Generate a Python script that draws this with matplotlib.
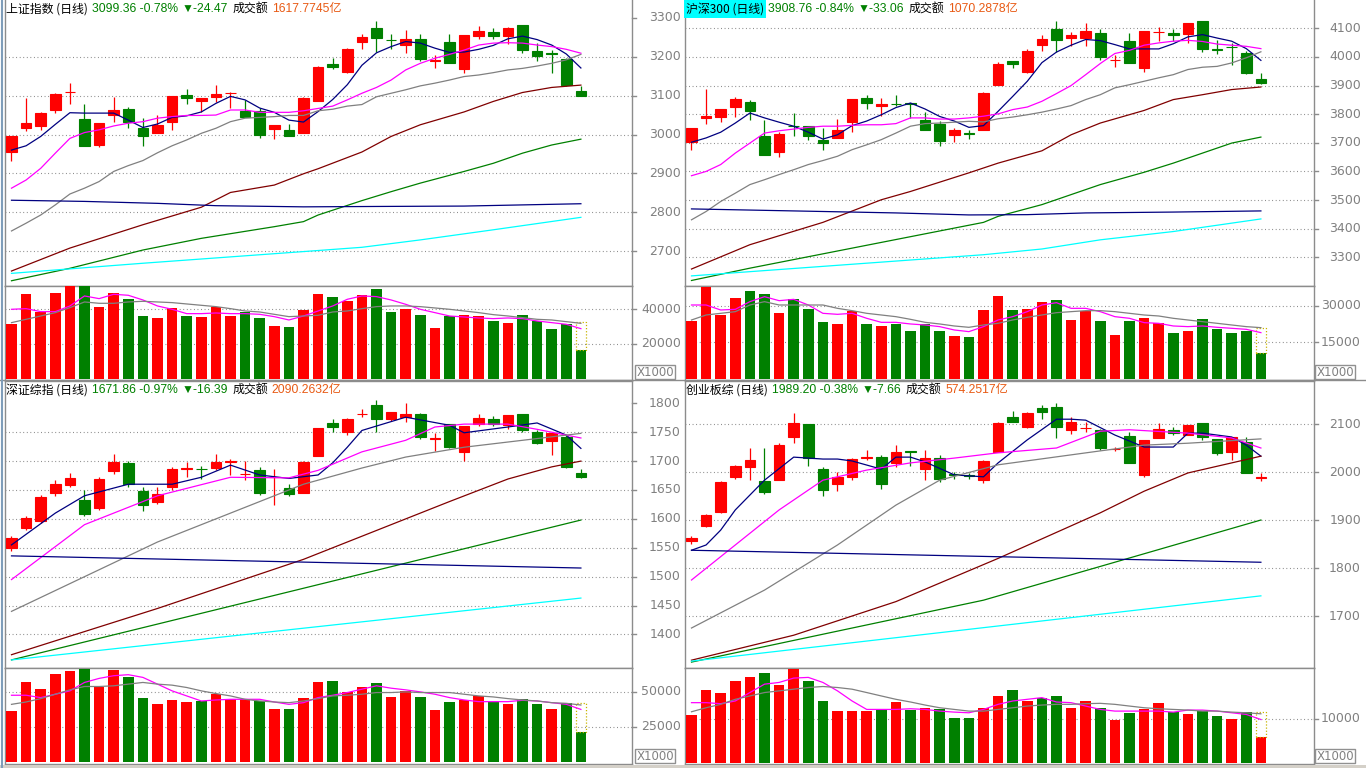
import numpy as np
import matplotlib.pyplot as plt
from matplotlib.patches import Rectangle
from matplotlib.lines import Line2D
from matplotlib.transforms import blended_transform_factory as blend

plt.rcParams['font.family'] = ['Liberation Sans', 'Noto Sans CJK SC', 'DejaVu Sans']

# ---------------- 上证指数 ----------------
sh_title = ["上证指数 (日线)", "3099.36 -0.78%", "▼-24.47", "成交额", "1617.7745亿"]
sh_open = [2956, 3018, 3023, 3064, 3108, 3040, 2972, 3049, 3066, 3018, 3005, 3031, 3102, 3087, 3097, 3106, 3061, 3060, 3015, 3012,
           3005, 3085, 3180, 3161, 3238, 3274, 3243, 3229, 3246, 3190, 3238, 3169, 3254, 3264, 3254, 3282, 3215, 3209, 3193, 3112]
sh_close = [2996, 3030, 3055, 3104, 3110, 2971, 3030, 3063, 3031, 2995, 3024, 3099, 3095, 3094, 3104, 3107, 3046, 3000, 3025, 2997,
            3095, 3174, 3173, 3220, 3251, 3249, 3242, 3245, 3195, 3191, 3183, 3256, 3266, 3254, 3274, 3218, 3203, 3208, 3128, 3099.36]
sh_high = [2996, 3095, 3058, 3106, 3133, 3078, 3030, 3097, 3070, 3042, 3050, 3099, 3117, 3094, 3127, 3109, 3089, 3069, 3025, 3027,
           3097, 3177, 3197, 3223, 3259, 3292, 3259, 3269, 3259, 3204, 3259, 3256, 3279, 3274, 3277, 3282, 3234, 3216, 3197, 3125]
sh_low = [2933, 3010, 3012, 3054, 3079, 2971, 2967, 3032, 3018, 2971, 3003, 3012, 3079, 3057, 3084, 3068, 3046, 2992, 2989, 2995,
          3003, 3085, 3169, 3157, 3221, 3213, 3221, 3209, 3190, 3172, 3183, 3157, 3246, 3246, 3232, 3210, 3189, 3159, 3125, 3099]
sh_ma5 = [2960, 2971, 2995, 3026, 3056, 3055, 3055, 3055, 3037, 3018, 3027, 3044, 3048, 3058, 3080, 3098, 3089, 3068, 3057, 3037,
          3032, 3059, 3090, 3128, 3178, 3210, 3226, 3239, 3235, 3222, 3211, 3212, 3219, 3229, 3246, 3253, 3244, 3230, 3207, 3171]
sh_ma10 = [2862, 2883, 2913, 2952, 2990, 3005, 3012, 3022, 3029, 3033, 3042, 3046, 3049, 3049, 3050, 3063, 3063, 3057, 3057, 3057,
           3061, 3067, 3073, 3089, 3106, 3121, 3140, 3166, 3183, 3196, 3206, 3217, 3230, 3235, 3236, 3235, 3230, 3226, 3219, 3209]
sh_ma20 = [2752, 2772, 2793, 2819, 2847, 2862, 2879, 2905, 2920, 2933, 2953, 2971, 2986, 3003, 3016, 3033, 3042, 3044, 3046, 3049,
           3049, 3061, 3065, 3073, 3077, 3097, 3106, 3115, 3125, 3132, 3140, 3149, 3153, 3159, 3166, 3170, 3176, 3183, 3192, 3206]
sh_ma60 = ([0, 4, 9, 13, 15, 18, 20, 21, 24, 26, 28, 31, 33, 35, 37, 39],
           [2649, 2708, 2768, 2813, 2851, 2870, 2899, 2912, 2955, 2995, 3025, 3058, 3085, 3108, 3121, 3127])
sh_ma120 = ([0, 4, 9, 13, 18, 20, 21, 24, 26, 28, 31, 33, 35, 37, 39],
            [2624, 2656, 2703, 2733, 2763, 2776, 2793, 2830, 2853, 2875, 2905, 2926, 2952, 2973, 2988])
sh_ma250 = ([0, 5, 10, 14, 20, 25, 31, 39], [2831, 2828, 2823, 2817, 2814, 2815, 2816, 2822])
sh_ma_c = ([0, 9, 20, 24, 28, 33, 39], [2643, 2669, 2699, 2710, 2729, 2755, 2787])
sh_vol = [31350, 48650, 38650, 49230, 53460, 53460, 41150, 49230, 45770, 35960, 34810, 40580, 35960, 35380, 41150, 35960, 38270, 34810, 30190, 29620,
          39420, 48650, 46920, 44620, 48080, 51540, 38270, 40000, 36540, 29040, 35960, 36540, 35960, 33080, 31920, 36540, 33080, 28460, 31350, 16350]
sh_vol_ma5 = [40000, 40380, 38650, 38650, 41920, 47690, 46150, 48650, 48080, 45380, 41920, 40000, 37500, 37500, 37880, 37500, 37500, 37110, 35770, 33850,
              36150, 39040, 41920, 45770, 47690, 47310, 45380, 42880, 40000, 38080, 36150, 35580, 35000, 34620, 35000, 34620, 33270, 32310, 31350, 28850]
sh_vol_ma10 = [32310, 34230, 36150, 38080, 40960, 44230, 43460, 43460, 44230, 44610, 44230, 43850, 43080, 42310, 41540, 40380, 39040, 38460, 37110, 35770,
               36150, 36540, 38460, 39040, 40380, 41540, 41920, 41920, 41540, 40770, 40000, 39040, 38080, 36920, 36150, 35190, 34230, 33850, 32880, 31920]
sh_vol_est = 32880
sh_price_ticks = [3300, 3200, 3100, 3000, 2900, 2800, 2700]
sh_price_grid = [3200, 3100, 3000, 2900, 2800, 2700]
sh_vol_ticks = [40000, 20000]

# ---------------- 沪深300 ----------------
hs_title = ["沪深300 (日线)", "3908.76 -0.84%", "▼-33.06", "成交额", "1070.2878亿"]
hs_open = [3702, 3786, 3789, 3824, 3844, 3725, 3667, 3760, 3760, 3711, 3716, 3772, 3858, 3828, 3837, 3838, 3779, 3765, 3726, 3733,
           3744, 3903, 3987, 3949, 4041, 4099, 4065, 4065, 4085, 3990, 4057, 3960, 4086, 4085, 4079, 4127, 4026, 4036, 4015, 3924]
hs_close = [3753, 3795, 3819, 3853, 3810, 3659, 3732, 3759, 3725, 3700, 3746, 3854, 3838, 3836, 3836, 3837, 3746, 3705, 3746, 3732,
            3875, 3977, 3974, 4022, 4064, 4058, 4078, 4089, 3999, 3991, 3978, 4089, 4087, 4076, 4120, 4027, 4025, 4035, 3943, 3908.76]
hs_high = [3753, 3889, 3819, 3859, 3848, 3779, 3737, 3804, 3760, 3752, 3784, 3854, 3868, 3858, 3866, 3838, 3807, 3775, 3752, 3746,
           3879, 3983, 3987, 4028, 4075, 4124, 4086, 4117, 4099, 4005, 4085, 4089, 4105, 4096, 4120, 4127, 4059, 4047, 4020, 3945]
hs_low = [3674, 3767, 3774, 3789, 3781, 3659, 3652, 3725, 3711, 3676, 3716, 3737, 3817, 3795, 3828, 3787, 3746, 3690, 3703, 3712,
          3744, 3903, 3960, 3943, 4022, 4017, 4038, 4037, 3991, 3964, 3978, 3946, 4057, 4057, 4048, 4016, 4009, 3971, 3939, 3907]
hs_ma5 = [3702, 3717, 3737, 3769, 3804, 3787, 3772, 3758, 3737, 3713, 3728, 3760, 3776, 3798, 3823, 3839, 3818, 3792, 3776, 3754,
          3760, 3810, 3862, 3915, 3980, 4017, 4041, 4061, 4057, 4043, 4028, 4028, 4028, 4046, 4070, 4078, 4066, 4055, 4029, 3988]
hs_ma10 = [3585, 3600, 3624, 3664, 3699, 3734, 3742, 3748, 3754, 3758, 3758, 3761, 3763, 3763, 3767, 3787, 3787, 3783, 3783, 3787,
           3793, 3801, 3816, 3825, 3845, 3872, 3900, 3938, 3977, 4012, 4023, 4041, 4049, 4055, 4058, 4054, 4045, 4041, 4037, 4029]
hs_ma20 = [3431, 3460, 3495, 3524, 3554, 3571, 3589, 3606, 3624, 3638, 3653, 3676, 3693, 3711, 3734, 3758, 3767, 3769, 3772, 3775,
           3773, 3784, 3790, 3798, 3807, 3818, 3830, 3851, 3868, 3892, 3903, 3915, 3927, 3938, 3956, 3964, 3967, 3979, 3997, 4018]
hs_ma60 = ([0, 4, 9, 13, 15, 19, 21, 24, 26, 28, 31, 33, 35, 37, 39],
           [3259, 3344, 3422, 3501, 3530, 3595, 3629, 3672, 3728, 3769, 3813, 3851, 3868, 3886, 3895])
hs_ma120 = ([0, 4, 9, 13, 20, 21, 24, 26, 28, 31, 33, 35, 37, 39],
            [3219, 3262, 3312, 3352, 3422, 3443, 3484, 3519, 3554, 3597, 3629, 3664, 3699, 3720])
hs_ma250 = ([0, 5, 10, 14, 19, 23, 27, 33, 39], [3469, 3464, 3459, 3455, 3448, 3449, 3455, 3458, 3462])
hs_ma_c = ([0, 20, 24, 28, 33, 39], [3235, 3309, 3329, 3361, 3390, 3434])
hs_vol = [23950, 37980, 26420, 33440, 36330, 34950, 27250, 32890, 28900, 23530, 22710, 27940, 22710, 21880, 22710, 19820, 22710, 19820, 17750, 17340,
          28350, 34270, 28350, 28760, 31790, 32620, 24220, 27940, 23950, 18170, 23950, 25180, 23120, 18990, 19820, 24770, 20640, 18990, 19820, 10730]
hs_vol_ma5 = [30410, 30410, 28350, 28620, 31790, 33850, 32200, 32750, 30410, 26970, 26560, 26970, 24910, 23250, 23250, 22570, 22150, 21470, 20090, 19400,
              21470, 24220, 25590, 27660, 30410, 31370, 29030, 29030, 27660, 25590, 24910, 23120, 22840, 21740, 21470, 21740, 21190, 20780, 20360, 18990]
hs_vol_ma10 = [24220, 26280, 26970, 27660, 30410, 31790, 30410, 30410, 30410, 30410, 29030, 28070, 26970, 26280, 25590, 24490, 23250, 22570, 21740, 21190,
               22150, 22840, 24220, 25320, 26280, 27240, 27660, 28070, 28070, 27660, 26970, 26280, 25870, 24910, 24220, 23530, 22840, 22150, 21470, 21050]
hs_vol_est = 21050
hs_price_ticks = [4100, 4000, 3900, 3800, 3700, 3600, 3500, 3400, 3300]
hs_price_grid = [4100, 4000, 3900, 3800, 3700, 3600, 3500, 3400, 3300]
hs_vol_ticks = [30000, 15000]

# ---------------- 深证综指 ----------------
sz_title = ["深证综指 (日线)", "1671.86 -0.97%", "▼-16.39", "成交额", "2090.2632亿"]
sz_open = [1550, 1584, 1596, 1645, 1658, 1633, 1619, 1683, 1697, 1648, 1629, 1655, 1687, 1687, 1688, 1699, 1677, 1685, 1672, 1653,
           1645, 1709, 1766, 1750, 1781, 1797, 1773, 1776, 1781, 1739, 1764, 1716, 1764, 1773, 1762, 1781, 1750, 1735, 1741, 1679]
sz_close = [1567, 1601, 1638, 1660, 1671, 1608, 1669, 1698, 1660, 1624, 1643, 1686, 1688, 1686, 1698, 1700, 1678, 1645, 1673, 1643,
            1698, 1757, 1759, 1773, 1782, 1773, 1785, 1782, 1742, 1740, 1724, 1761, 1774, 1764, 1780, 1754, 1731, 1748, 1690, 1671.86]
sz_high = [1570, 1605, 1642, 1668, 1680, 1650, 1672, 1712, 1700, 1655, 1655, 1690, 1698, 1692, 1712, 1703, 1701, 1690, 1686, 1660,
           1700, 1758, 1772, 1775, 1790, 1805, 1785, 1800, 1783, 1748, 1764, 1761, 1782, 1778, 1780, 1781, 1753, 1750, 1745, 1686]
sz_low = [1545, 1580, 1593, 1640, 1655, 1605, 1615, 1678, 1655, 1613, 1625, 1650, 1672, 1669, 1685, 1676, 1667, 1642, 1624, 1640,
          1645, 1708, 1751, 1746, 1777, 1750, 1770, 1767, 1738, 1717, 1722, 1700, 1760, 1760, 1755, 1750, 1729, 1710, 1688, 1670]
sz_ma5 = ([0, 3, 5, 8, 11, 13, 15, 17, 19, 21, 22, 23, 24, 27, 30, 31, 34, 36, 38, 39],
          [1555, 1610, 1640, 1660, 1660, 1672, 1693, 1676, 1670, 1676, 1697, 1724, 1753, 1776, 1762, 1749, 1759, 1766, 1745, 1722])
sz_ma10 = ([0, 5, 10, 15, 19, 21, 24, 27, 29, 31, 34, 36, 39],
           [1495, 1590, 1640, 1672, 1671, 1684, 1716, 1736, 1759, 1764, 1764, 1755, 1740])
sz_ma20 = ([0, 5, 10, 15, 20, 24, 27, 31, 35, 39], [1440, 1500, 1560, 1610, 1660, 1688, 1707, 1724, 1736, 1748])
sz_ma60 = ([0, 10, 20, 30, 34, 37, 39], [1365, 1445, 1530, 1630, 1669, 1690, 1700])
sz_ma120 = ([0, 20, 39], [1356, 1480, 1598])
sz_ma250 = ([0, 39], [1536, 1515])
sz_ma_c = ([0, 39], [1356, 1463])
sz_vol = [36190, 56900, 51670, 62380, 64760, 65950, 53330, 65240, 60480, 45720, 40950, 43810, 42620, 43330, 48100, 45000, 45000, 43330, 37380, 37380,
          45240, 56900, 57620, 50000, 53330, 55950, 46190, 50480, 46190, 36900, 42620, 44050, 46910, 43330, 40950, 44520, 40950, 37380, 42140, 21190]
sz_vol_ma5 = [47380, 47380, 45720, 48100, 50480, 56430, 59290, 61190, 61910, 60000, 55240, 50480, 46910, 43330, 44050, 44520, 44520, 44520, 42620, 40950,
              42140, 45720, 47380, 49290, 51670, 54050, 52380, 51190, 49760, 48100, 45720, 44050, 42860, 42860, 42860, 43810, 43330, 42140, 40950, 37380]
sz_vol_ma10 = [40950, 42620, 45000, 48100, 51190, 53570, 53570, 54050, 55240, 56430, 55240, 54520, 52860, 50480, 48570, 46910, 44520, 43330, 42620, 42140,
               43330, 45000, 46910, 47380, 48100, 49290, 49290, 49760, 49290, 49290, 49290, 48100, 46910, 46190, 45000, 44050, 43330, 42140, 41670, 40480]
sz_vol_est = 41670
sz_price_ticks = [1800, 1750, 1700, 1650, 1600, 1550, 1500, 1450, 1400]
sz_price_grid = [1750, 1700, 1650, 1600, 1550, 1500, 1450, 1400]
sz_vol_ticks = [50000, 25000]

# ---------------- 创业板综 ----------------
cy_title = ["创业板综 (日线)", "1989.20 -0.38%", "▼-7.66", "成交额", "574.2517亿"]
cy_open = [1856, 1888, 1917, 1990, 2010, 1981, 1983, 2073, 2100, 2006, 1975, 1990, 2030, 2031, 2019, 2043, 2006, 2029, 1995, 1993,
           1983, 2042, 2115, 2094, 2133, 2135, 2088, 2091, 2088, 2047, 2075, 1994, 2071, 2088, 2077, 2102, 2069, 2042, 2063, 1988]
cy_close = [1863, 1910, 1979, 2012, 2025, 1958, 2056, 2102, 2029, 1963, 1990, 2027, 2031, 1975, 2042, 2042, 2029, 1985, 1994, 1992,
            2023, 2102, 2104, 2123, 2125, 2094, 2104, 2092, 2050, 2048, 2019, 2067, 2090, 2081, 2098, 2073, 2040, 2073, 1998, 1989.2]
cy_high = [1866, 1912, 1982, 2015, 2050, 2050, 2060, 2123, 2100, 2010, 2000, 2030, 2046, 2035, 2056, 2043, 2045, 2035, 2000, 1997,
           2025, 2105, 2128, 2125, 2140, 2143, 2115, 2105, 2090, 2052, 2083, 2067, 2102, 2094, 2098, 2102, 2069, 2073, 2073, 1997]
cy_low = [1850, 1885, 1915, 1985, 1983, 1955, 1983, 2060, 2012, 1950, 1960, 1983, 2025, 1965, 2010, 2012, 1983, 1980, 1985, 1985,
          1978, 2042, 2104, 2092, 2110, 2070, 2080, 2083, 2045, 2043, 2019, 1990, 2071, 2077, 2077, 2066, 2035, 2025, 1998, 1982]
cy_ma5 = ([0, 1, 2, 3, 4, 5, 7, 9, 10, 11, 13, 14, 15, 16, 18, 20, 21, 23, 25, 26, 27, 29, 31, 33, 34, 35, 37, 38, 39],
          [1837, 1848, 1879, 1921, 1952, 1983, 2031, 2027, 2027, 2023, 2006, 2031, 2031, 2021, 1994, 1990, 2019, 2067, 2110, 2110, 2108, 2077, 2052, 2052, 2081, 2081, 2073, 2056, 2033])
cy_ma10 = ([0, 3, 6, 9, 12, 15, 18, 21, 25, 28, 30, 34, 37, 39],
           [1775, 1848, 1921, 1983, 2004, 2019, 2029, 2040, 2050, 2085, 2088, 2081, 2071, 2050])
cy_ma20 = ([0, 5, 10, 14, 17, 21, 28, 31, 34, 39], [1675, 1754, 1848, 1931, 1983, 2015, 2044, 2056, 2060, 2069])
cy_ma60 = ([0, 7, 14, 21, 28, 31, 34, 39], [1608, 1660, 1730, 1820, 1915, 1960, 1998, 2033])
cy_ma120 = ([0, 20, 39], [1604, 1733, 1900])
cy_ma250 = ([0, 39], [1837, 1812])
cy_ma_c = ([0, 39], [1606, 1742])
cy_vol = [10760, 16480, 15790, 18540, 19460, 20370, 17630, 21290, 18540, 13960, 11670, 11670, 11670, 12130, 13730, 11900, 12360, 12130, 10300, 10300,
          12360, 15110, 16480, 13960, 14650, 15110, 12360, 13960, 12360, 9840, 11220, 12130, 13510, 11450, 10990, 11670, 10530, 10070, 11450, 5950]
cy_vol_ma5 = [13660, 13660, 13430, 14040, 15950, 17850, 18240, 19230, 19380, 18240, 16330, 14040, 12130, 12130, 12130, 12280, 12130, 11750, 11520, 11370,
              12130, 13280, 14040, 14420, 14800, 13810, 13660, 12890, 12130, 11750, 11750, 11750, 11750, 11520, 11980, 11980, 11750, 11370, 10990, 9840]
cy_vol_ma10 = [11600, 12510, 13280, 14420, 15180, 15950, 16330, 16710, 17090, 17320, 17090, 16710, 15950, 15180, 14420, 13810, 13120, 12510, 12130, 11750,
               11750, 12130, 12510, 12890, 13120, 13280, 13280, 13430, 13510, 13280, 12890, 12510, 12280, 12130, 11980, 11750, 11750, 11520, 11370, 11140]
cy_vol_est = 11600
cy_price_ticks = [2100, 2000, 1900, 1800, 1700]
cy_price_grid = [2100, 2000, 1900, 1800, 1700]
cy_vol_ticks = [10000]

# ---------------- drawing ----------------
RED, GREEN = '#ff0000', '#008000'
EDGE = '#8c8c8c'
LABEL = '#808080'
DOTS = (0, (0.8, 2.4))
W, H = 1366, 768
STEP = 14.6   # pixels per candle

fig = plt.figure(figsize=(W / 100, H / 100), dpi=100)
fig.patch.set_facecolor('white')
renderer = fig.canvas.get_renderer()


def px_axes(x0, y0, x1, y1):
    ax = fig.add_axes([x0 / W, 1 - y1 / H, (x1 - x0) / W, (y1 - y0) / H])
    ax.set_xticks([])
    ax.set_yticks([])
    for s in ax.spines.values():
        s.set_color(EDGE)
        s.set_linewidth(1)
    return ax


def axis_labels(ax, ticks, grid, x0, x1, lab_x):
    tr = blend(ax.transAxes, ax.transData)
    wpx = x1 - x0
    for v in grid:
        ax.axhline(v, color='#808080', lw=0.8, ls=DOTS, zorder=1)
    for v in ticks:
        ax.text((lab_x - x0) / wpx, v, str(v), transform=tr, ha='right', va='center',
                fontsize=9, color=LABEL, family='DejaVu Sans', clip_on=False)
        ax.add_line(Line2D([1, 1 + 4 / wpx], [v, v], transform=tr, color=EDGE, lw=1, clip_on=False))


def x1000_box(bx, by):
    fig.patches.append(Rectangle((bx / W, 1 - (by + 14) / H), 40 / W, 14 / H, transform=fig.transFigure,
                                 facecolor='white', edgecolor='#909090', lw=1))
    fig.text((bx + 20) / W, 1 - (by + 7.5) / H, 'X1000', ha='center', va='center',
             fontsize=8.5, color=LABEL, family='DejaVu Sans')


def title_line(x, y, parts, bg=None):
    fams = [['Noto Sans CJK SC'], ['Liberation Sans', 'DejaVu Sans'], ['Liberation Sans', 'DejaVu Sans'],
            ['Noto Sans CJK SC'], ['Liberation Sans', 'Noto Sans CJK SC']]
    cols = ['black', GREEN, GREEN, 'black', '#e85a14']
    sizes = [8.6, 8.7, 8.7, 8.6, 8.7]
    for i, s in enumerate(parts):
        t = fig.text(x / W, 1 - y / H, s, color=cols[i], fontsize=sizes[i], family=fams[i], ha='left', va='center')
        if i == 0 and bg:
            t.set_bbox(dict(facecolor=bg, edgecolor='none', pad=1.6))
        x += t.get_window_extent(renderer=renderer).width + 4


def draw_chart(o, h, l, c, ma5, ma10, ma20, ma60, ma120, ma250, ma_c, vol, vma5, vma10, vest,
               pticks, pgrid, vticks, title, x0, x1, ytop, ysplit, ybot, lab_x, plim, vlim, box_x, bg=None):
    o, h, l, c = map(np.asarray, (o, h, l, c))
    n = len(c)
    xs = np.arange(n)
    xlim = (-0.445, -0.445 + (x1 - x0) / STEP)
    up = c >= o
    cols = np.where(up, RED, GREEN)

    pa = px_axes(x0, ytop, x1, ysplit)
    pa.set_xlim(xlim)
    pa.set_ylim(plim)
    axis_labels(pa, pticks, pgrid, x0, x1, lab_x)
    pa.vlines(xs, l, h, colors=cols, lw=0.9, zorder=3)
    pa.bar(xs, np.abs(c - o), bottom=np.minimum(o, c), width=0.72, color=cols, edgecolor=cols, lw=0.8, zorder=3)
    for line, col in [(ma5, '#000080'), (ma10, '#ff00ff'), (ma20, '#808080'), (ma60, '#800000'),
                      (ma120, '#008000'), (ma250, '#000080'), (ma_c, '#00ffff')]:
        if isinstance(line, tuple):
            pa.plot(line[0], line[1], color=col, lw=0.9, zorder=4)
        else:
            pa.plot(xs, line, color=col, lw=0.9, zorder=4)

    va = px_axes(x0, ysplit, x1, ybot)
    va.set_xlim(xlim)
    va.set_ylim(vlim)
    axis_labels(va, vticks, vticks, x0, x1, lab_x)
    va.bar(xs, vol, width=0.72, color=cols, lw=0, zorder=3)
    va.add_patch(Rectangle((n - 1 - 0.36, vol[-1]), 0.72, vest - vol[-1], fill=False,
                           edgecolor='#c8b400', lw=0.9, ls=(0, (1, 1.5)), zorder=4))
    va.plot(xs, vma5, color='#ff00ff', lw=0.9, zorder=4)
    va.plot(xs, vma10, color='#808080', lw=0.9, zorder=4)
    x1000_box(box_x, ybot - 15)
    title_line(x0 + 1, ytop + 9, title, bg)
    return pa


top_pa = draw_chart(sh_open, sh_high, sh_low, sh_close, sh_ma5, sh_ma10, sh_ma20, sh_ma60, sh_ma120, sh_ma250, sh_ma_c,
                    sh_vol, sh_vol_ma5, sh_vol_ma10, sh_vol_est, sh_price_ticks, sh_price_grid, sh_vol_ticks, sh_title,
                    5, 632, 0, 286, 380, 681, (2610.5, 3345.8), (-750, 53430), 635)
top_pa.spines['top'].set_visible(False)
top_pb = draw_chart(hs_open, hs_high, hs_low, hs_close, hs_ma5, hs_ma10, hs_ma20, hs_ma60, hs_ma120, hs_ma250, hs_ma_c,
                    hs_vol, hs_vol_ma5, hs_vol_ma10, hs_vol_est, hs_price_ticks, hs_price_grid, hs_vol_ticks, hs_title,
                    685, 1314, 0, 286, 380, 1361, (3199.7, 4198.9), (-580, 38260), 1315, bg='#00ffff')
top_pb.spines['top'].set_visible(False)
draw_chart(sz_open, sz_high, sz_low, sz_close, sz_ma5, sz_ma10, sz_ma20, sz_ma60, sz_ma120, sz_ma250, sz_ma_c,
           sz_vol, sz_vol_ma5, sz_vol_ma10, sz_vol_est, sz_price_ticks, sz_price_grid, sz_vol_ticks, sz_title,
           5, 632, 381, 668, 764, 681, (1342, 1838.6), (-1210, 66640), 635)
draw_chart(cy_open, cy_high, cy_low, cy_close, cy_ma5, cy_ma10, cy_ma20, cy_ma60, cy_ma120, cy_ma250, cy_ma_c,
           cy_vol, cy_vol_ma5, cy_vol_ma10, cy_vol_est, cy_price_ticks, cy_price_grid, cy_vol_ticks, cy_title,
           685, 1314, 381, 668, 764, 1361, (1591.7, 2189.6), (-230, 21510), 1315)

# window chrome: separator between rows, left edge stripe, bottom strip
fig.add_artist(Line2D([0, 1], [1 - 380.5 / H] * 2, transform=fig.transFigure, color=EDGE, lw=1))
fig.add_artist(Line2D([2 / W] * 2, [0, 1], transform=fig.transFigure, color='#7f9db9', lw=1.5))
fig.patches.append(Rectangle((0, 0), 1, 3.5 / H, transform=fig.transFigure, facecolor='#d4d0c8', edgecolor='none'))

fig.savefig('out.png', dpi=100)
